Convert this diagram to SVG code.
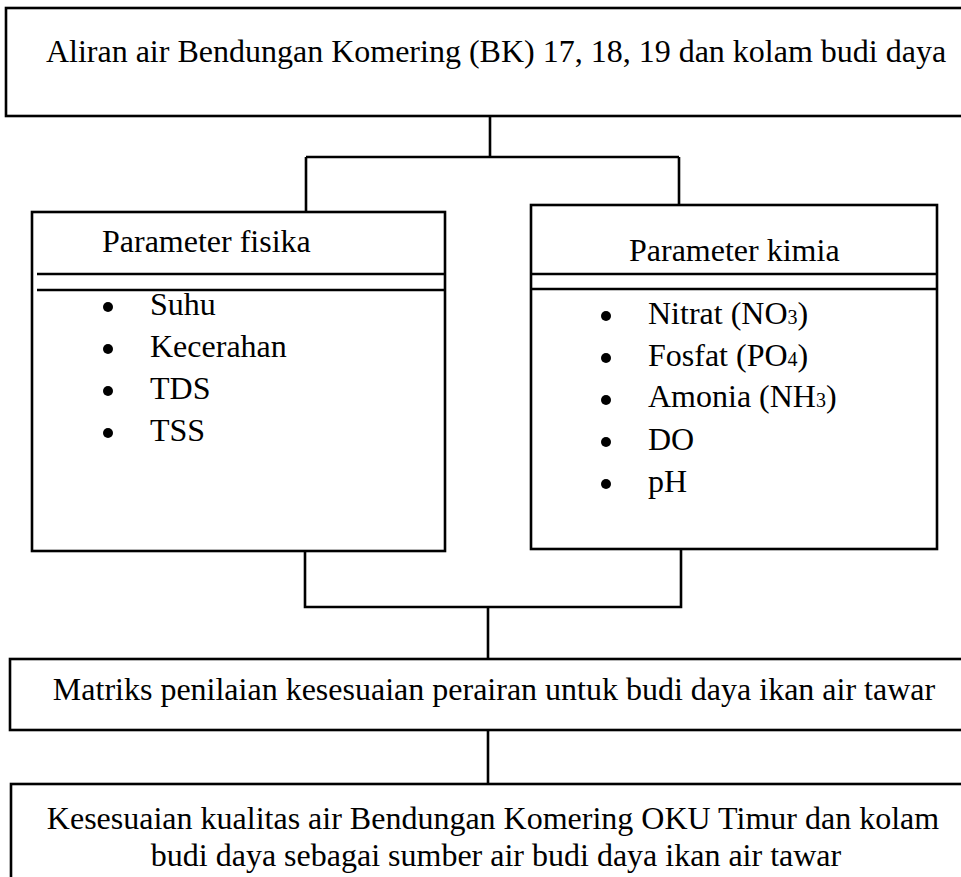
<svg xmlns="http://www.w3.org/2000/svg" width="961" height="877" viewBox="0 0 961 877">
<style>
.box{fill:#fff;stroke:#000;stroke-width:2.6}
.ln{fill:none;stroke:#000;stroke-width:2.6}
text{font-family:"Liberation Serif","Times New Roman",serif;font-size:32px;fill:#000}
.c{text-anchor:middle}
.sub{font-size:20px}
</style>
<rect width="961" height="877" fill="#fff"/>
<g id="connectors">
<path class="ln" d="M490,116 V157 M306,157 H679 M306,157 V212 M679,157 V205"/>
<path class="ln" d="M305,551 V607 H681 V549 M488,607 V659"/>
<path class="ln" d="M488,730 V784"/>
</g>
<g id="n-top">
<rect class="box" x="6" y="8" width="970" height="108"/>
<text class="c" x="496" y="62">Aliran air Bendungan Komering (BK) 17, 18, 19 dan kolam budi daya</text>
</g>
<g id="n-fisika">
<rect class="box" x="32" y="212" width="413" height="339"/>
<path class="ln" d="M37,274 H445 M37,290 H445"/>
<text x="102" y="252">Parameter fisika</text>
<g>
<circle cx="108" cy="307" r="5"/><text x="150" y="315">Suhu</text>
<circle cx="108" cy="349" r="5"/><text x="150" y="357">Kecerahan</text>
<circle cx="108" cy="391" r="5"/><text x="150" y="399">TDS</text>
<circle cx="108" cy="433" r="5"/><text x="150" y="441">TSS</text>
</g>
</g>
<g id="n-kimia">
<rect class="box" x="531" y="205" width="406" height="344"/>
<path class="ln" d="M532,274 H938 M532,289 H938"/>
<text x="629" y="261">Parameter kimia</text>
<g>
<circle cx="606" cy="316" r="5"/><text x="648" y="324">Nitrat (NO<tspan class="sub">3</tspan>)</text>
<circle cx="606" cy="358" r="5"/><text x="648" y="366">Fosfat (PO<tspan class="sub">4</tspan>)</text>
<circle cx="606" cy="400" r="5"/><text x="648" y="407">Amonia (NH<tspan class="sub">3</tspan>)</text>
<circle cx="606" cy="442" r="5"/><text x="648" y="450">DO</text>
<circle cx="606" cy="484" r="5"/><text x="648" y="492">pH</text>
</g>
</g>
<g id="n-matriks">
<rect class="box" x="10" y="659" width="970" height="71"/>
<text class="c" x="494" y="700">Matriks penilaian kesesuaian perairan untuk budi daya ikan air tawar</text>
</g>
<g id="n-hasil">
<rect class="box" x="11" y="784" width="970" height="120"/>
<text class="c" x="493" y="829">Kesesuaian kualitas air Bendungan Komering OKU Timur dan kolam</text>
<text class="c" x="496" y="866">budi daya sebagai sumber air budi daya ikan air tawar</text>
</g>
</svg>
